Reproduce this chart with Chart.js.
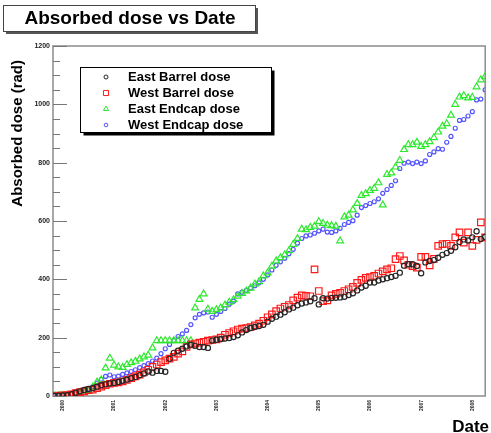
<!DOCTYPE html>
<html>
<head>
<meta charset="utf-8">
<script src="https://cdn.jsdelivr.net/npm/chart.js@4/dist/chart.umd.min.js"></script>
<style>
  html, body { margin: 0; padding: 0; background: #fff; }
  canvas { display: block; }
</style>
</head>
<body>
<canvas id="c" width="491" height="433"></canvas>
<script>
// Monthly readings, Nov 1999 .. Apr 2008
const months = [
  "1999-11","1999-12",
  "2000-01","2000-02","2000-03","2000-04","2000-05","2000-06","2000-07","2000-08","2000-09","2000-10","2000-11","2000-12",
  "2001-01","2001-02","2001-03","2001-04","2001-05","2001-06","2001-07","2001-08","2001-09","2001-10","2001-11","2001-12",
  "2002-01","2002-02","2002-03","2002-04","2002-05","2002-06","2002-07","2002-08","2002-09","2002-10","2002-11","2002-12",
  "2003-01","2003-02","2003-03","2003-04","2003-05","2003-06","2003-07","2003-08","2003-09","2003-10","2003-11","2003-12",
  "2004-01","2004-02","2004-03","2004-04","2004-05","2004-06","2004-07","2004-08","2004-09","2004-10","2004-11","2004-12",
  "2005-01","2005-02","2005-03","2005-04","2005-05","2005-06","2005-07","2005-08","2005-09","2005-10","2005-11","2005-12",
  "2006-01","2006-02","2006-03","2006-04","2006-05","2006-06","2006-07","2006-08","2006-09","2006-10","2006-11","2006-12",
  "2007-01","2007-02","2007-03","2007-04","2007-05","2007-06","2007-07","2007-08","2007-09","2007-10","2007-11","2007-12",
  "2008-01","2008-02","2008-03","2008-04"
];

const yearTicks = [2000, 2001, 2002, 2003, 2004, 2005, 2006, 2007, 2008];
const doseTicks = [0, 200, 400, 600, 800, 1000, 1200];

// Absorbed dose (rad)
const eastBarrel = [
  0, 1,
  2, 3, 6, 11, 16, 21, 24, 27, 32, 37, 40, 43,
  45, 48, 52, 56, 61, 65, 71, 77, 84, 80, 86, 86,
  83, 128, 148, 155, 162, 170, 176, 172, 168, 168, 165, 190,
  193, 195, 197, 199, 202, 208, 218, 226, 233, 237, 240, 244,
  255, 265, 272, 279, 287, 297, 303, 311, 317, 321, 325, 335,
  314, 335, 334, 336, 337, 338, 340, 346, 352, 362, 372, 378,
  389, 389, 396, 400, 404, 408, 412, 423, 447, 452, 452, 446,
  421, 458, 463, 466, 474, 484, 490, 498, 510, 528, 537, 533,
  544, 565, 538, 545
];

const westBarrel = [
  0, 1,
  2, 3, 6, 10, 13, 16, 20, 22, 27, 32, 37, 42,
  45, 47, 50, 55, 61, 67, 73, 81, 90, 100, 108, 116,
  122, 128, 134, 145, 153, 168, 177, 180, 183, 186, 190, 192,
  194, 200, 210, 216, 222, 228, 231, 233, 236, 242, 248, 258,
  270, 280, 291, 300, 306, 312, 328, 337, 345, 343, 342, 434,
  360, 325, 328, 345, 350, 354, 360, 366, 374, 388, 398, 405,
  408, 412, 420, 427, 434, 438, 469, 480, 465, 450, 445, 440,
  477, 477, 448, 470, 515, 521, 522, 515, 544, 561, 526, 561,
  515, 535, 595, 544
];

const eastEndcap = [
  0, 0,
  1, 2, 3, 5, 8, 12, 18, 30, 48, 55, 96, 130,
  106, 100, 98, 108, 114, 119, 127, 134, 140, 165, 190, 190,
  190, 190, 190, 190, 190, 190, 190, 302, 331, 350, 298, 290,
  296, 302, 312, 322, 330, 342, 352, 360, 370, 384, 392, 412,
  422, 445, 463, 474, 484, 498, 520, 540, 572, 570, 578, 582,
  598, 592, 586, 584, 582, 532, 614, 620, 638, 660, 688, 694,
  705, 712, 731, 655, 760, 765, 785, 808, 845, 862, 862, 870,
  856, 862, 872, 886, 905, 925, 934, 963, 1000, 1025, 1030, 1022,
  1024, 1060, 1084, 1095
];

const westEndcap = [
  0, 1,
  2, 4, 6, 9, 13, 18, 24, 32, 44, 57, 67, 72,
  66, 68, 74, 79, 84, 90, 97, 104, 111, 120, 130, 145,
  162, 177, 190, 204, 213, 225, 245, 268, 280, 285, 288, 270,
  280, 290, 300, 315, 325, 350, 356, 362, 370, 378, 388, 400,
  415, 432, 448, 460, 472, 488, 503, 524, 540, 549, 552, 558,
  566, 572, 562, 561, 566, 575, 588, 595, 601, 620, 646, 653,
  660, 666, 676, 695, 708, 722, 738, 780, 798, 802, 797, 802,
  797, 806, 828, 837, 848, 846, 870, 890, 918, 945, 948, 960,
  975, 1015, 1018, 1050
];

const seriesNames = ["East Barrel dose", "West Barrel dose", "East Endcap dose", "West Endcap dose"];

// "YYYY-MM" -> fractional year
function monthToYear(s) {
  const parts = s.split("-").map(Number);
  return parts[0] + (parts[1] - 1) / 12;
}
function toPoints(values) {
  return values.map((v, i) => ({ x: monthToYear(months[i]), y: v }));
}

const FONT = "'Liberation Sans', Arial, Helvetica, sans-serif";

const styles = [
  { color: "#262626", pointStyle: "circle",   radius: 2.6, legendRadius: 2.0 },
  { color: "#ff1a1a", pointStyle: "rect",     radius: 4.6, legendRadius: 3.6 },
  { color: "#2ee82e", pointStyle: "triangle", radius: 3.9, legendRadius: 3.0 },
  { color: "#5555ff", pointStyle: "circle",   radius: 2.0, legendRadius: 1.8 }
];

const seriesValues = [eastBarrel, westBarrel, eastEndcap, westEndcap];

const datasets = seriesValues.map((vals, i) => ({
  label: seriesNames[i],
  data: toPoints(vals),
  showLine: false,
  pointStyle: styles[i].pointStyle,
  pointRadius: styles[i].radius,
  pointBorderWidth: 1.2,
  pointBorderColor: styles[i].color,
  pointBackgroundColor: "rgba(0,0,0,0)",
  order: i
}));

// Frame, inward ticks, title box, axis titles and legend box
const decorations = {
  id: "decorations",
  beforeDatasetsDraw(chart) {
    const { ctx, chartArea: a, scales } = chart;
    const y = scales.y;
    ctx.save();
    ctx.strokeStyle = "#8c8c8c";
    ctx.lineWidth = 1.5;
    ctx.strokeRect(a.left, a.top, a.right - a.left, a.bottom - a.top);
    ctx.strokeStyle = "#777";
    ctx.lineWidth = 1;
    for (let v = y.min; v <= y.max; v += 50) {
      const py = Math.round(y.getPixelForValue(v)) + 0.5;
      const len = v % 200 === 0 ? 14 : 7;
      ctx.beginPath();
      ctx.moveTo(a.left, py);
      ctx.lineTo(a.left + len, py);
      ctx.stroke();
    }
    ctx.restore();
  },
  afterDraw(chart) {
    const { ctx } = chart;
    ctx.save();

    // chart title box
    ctx.fillStyle = "#555";
    ctx.fillRect(6, 8, 252, 26);
    ctx.fillStyle = "#fff";
    ctx.fillRect(3.5, 5.5, 252, 26);
    ctx.strokeStyle = "#444";
    ctx.lineWidth = 1;
    ctx.strokeRect(3.5, 5.5, 252, 26);
    ctx.fillStyle = "#000";
    ctx.font = "bold 19px " + FONT;
    ctx.textAlign = "center";
    ctx.textBaseline = "middle";
    ctx.fillText("Absorbed dose vs Date", 130, 19);

    // y axis title
    ctx.save();
    ctx.translate(18, 60);
    ctx.rotate(-Math.PI / 2);
    ctx.font = "bold 15px " + FONT;
    ctx.textAlign = "right";
    ctx.textBaseline = "middle";
    ctx.fillText("Absorbed dose (rad)", 0, 0);
    ctx.restore();

    // x axis title
    ctx.font = "bold 17px " + FONT;
    ctx.textAlign = "right";
    ctx.textBaseline = "alphabetic";
    ctx.fillText("Date", 489, 432);

    // legend box
    const lx = 80.5, ly = 67.5, lw = 191, lh = 65;
    ctx.fillStyle = "#000";
    ctx.fillRect(lx + 3, ly + 3, lw, lh);
    ctx.fillStyle = "#fff";
    ctx.fillRect(lx, ly, lw, lh);
    ctx.strokeStyle = "#000";
    ctx.lineWidth = 1;
    ctx.strokeRect(lx, ly, lw, lh);

    ctx.font = "bold 13px " + FONT;
    ctx.textAlign = "left";
    ctx.textBaseline = "middle";
    seriesNames.forEach((name, i) => {
      const ry = 77 + i * 16;
      ctx.save();
      ctx.strokeStyle = styles[i].color;
      ctx.fillStyle = "rgba(0,0,0,0)";
      ctx.lineWidth = 1;
      Chart.helpers.drawPoint(ctx, {
        pointStyle: styles[i].pointStyle,
        radius: styles[i].legendRadius,
        rotation: 0,
        borderWidth: 1
      }, 106, ry);
      ctx.restore();
      ctx.fillStyle = "#000";
      ctx.fillText(name, 128, ry);
    });

    ctx.restore();
  }
};

new Chart(document.getElementById("c"), {
  type: "scatter",
  data: { datasets },
  options: {
    responsive: false,
    animation: false,
    devicePixelRatio: 1,
    layout: { padding: { top: 46, right: 3, left: 0, bottom: 0 } },
    plugins: {
      legend: { display: false },
      title: { display: false },
      tooltip: { enabled: false }
    },
    scales: {
      x: {
        type: "linear",
        min: 1999.806,
        max: 2008.252,
        grid: { display: false, drawTicks: false },
        border: { display: false },
        afterBuildTicks(scale) {
          scale.ticks = yearTicks.map(v => ({ value: v }));
        },
        afterFit(scale) { scale.height = 37; },
        ticks: {
          autoSkip: false,
          minRotation: 90,
          maxRotation: 90,
          padding: 4,
          color: "#222",
          font: { family: FONT, size: 5, weight: "bold" },
          callback: v => String(v)
        }
      },
      y: {
        min: 0,
        max: 1200,
        grid: { display: false, drawTicks: false },
        border: { display: false },
        afterBuildTicks(scale) {
          scale.ticks = doseTicks.map(v => ({ value: v }));
        },
        afterFit(scale) { scale.width = 53; },
        ticks: {
          padding: 3,
          color: "#222",
          font: { family: FONT, size: 7, weight: "bold" },
          callback: v => String(v)
        }
      }
    }
  },
  plugins: [decorations]
});
</script>
</body>
</html>
